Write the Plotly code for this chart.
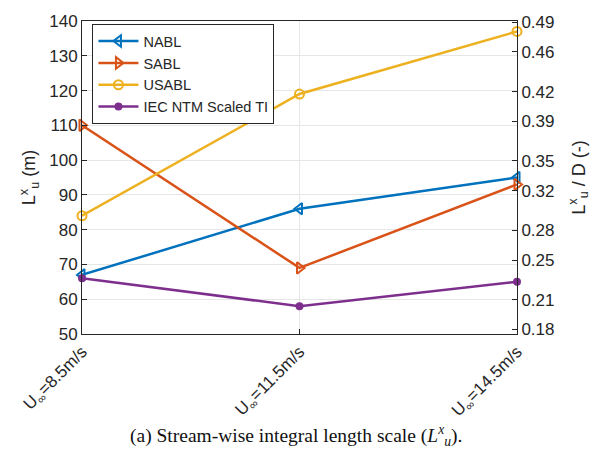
import plotly.graph_objects as go

# Wind-speed cases and streamwise integral length scale (m)
cases = ["U<sub>∞</sub>=8.5m/s", "U<sub>∞</sub>=11.5m/s", "U<sub>∞</sub>=14.5m/s"]
nabl = [67, 86, 95]
sabl = [110, 69, 93]
usabl = [84, 119, 137]
iec_ntm = [66, 58, 65]

# Normalising diameter for the right-hand axis
rotor_d = 285.0
left_ticks = [50, 60, 70, 80, 90, 100, 110, 120, 130, 140]
right_ticks = [0.18, 0.21, 0.25, 0.28, 0.32, 0.35, 0.39, 0.42, 0.46, 0.49]

x = list(range(len(cases)))
font = "Liberation Sans, Arial, sans-serif"

fig = go.Figure()
series = [
    ("NABL", nabl, "#0072BD", dict(symbol="triangle-left-open", size=10, line=dict(width=2))),
    ("SABL", sabl, "#D95319", dict(symbol="triangle-right-open", size=10, line=dict(width=2))),
    ("USABL", usabl, "#EDB120", dict(symbol="circle-open", size=9, line=dict(width=2))),
    ("IEC NTM Scaled TI", iec_ntm, "#7E2F8E", dict(symbol="circle", size=8)),
]
for name, vals, color, marker in series:
    fig.add_trace(go.Scatter(
        x=x, y=vals, name=name, mode="lines+markers",
        line=dict(color=color, width=2.5),
        marker=dict(color=color, **marker),
        cliponaxis=False,
    ))

# invisible trace to carry the secondary axis
fig.add_trace(go.Scatter(x=[0], y=[50 / rotor_d], yaxis="y2", mode="markers",
                         marker=dict(opacity=0), showlegend=False, hoverinfo="skip"))

axis_line = "#262626"
fig.update_layout(
    width=602, height=460,
    margin=dict(l=82, r=85, t=15, b=126),
    paper_bgcolor="white", plot_bgcolor="white",
    font=dict(family=font, size=17, color="#262626"),
    xaxis=dict(
        range=[0, 2], tickvals=x, ticktext=cases, tickangle=-45,
        showgrid=True, gridcolor="#e6e6e6", gridwidth=1,
        showline=True, linecolor=axis_line, linewidth=1, mirror=True,
        ticks="inside", ticklen=5, tickcolor=axis_line,
        zeroline=False, tickfont=dict(size=17),
    ),
    yaxis=dict(
        range=[50, 140], tickvals=left_ticks, tickfont=dict(size=17),
        showgrid=True, gridcolor="#e6e6e6", gridwidth=1,
        showline=True, linecolor=axis_line, linewidth=1,
        ticks="inside", ticklen=5, tickcolor=axis_line,
        zeroline=False,
        title=dict(text="L<sup>x</sup><sub>u</sub> (m)", font=dict(size=18), standoff=8),
    ),
    yaxis2=dict(
        range=[50 / rotor_d, 140 / rotor_d], tickvals=right_ticks,
        ticktext=[f"{v:.2f}" for v in right_ticks], tickfont=dict(size=17),
        overlaying="y", side="right", showgrid=False,
        showline=True, linecolor=axis_line, linewidth=1,
        ticks="inside", ticklen=5, tickcolor=axis_line,
        zeroline=False,
        title=dict(text="L<sup>x</sup><sub>u</sub> / D (-)", font=dict(size=18), standoff=18),
    ),
    legend=dict(
        x=0.024, y=0.99, xanchor="left", yanchor="top",
        bgcolor="white", bordercolor=axis_line, borderwidth=1,
        font=dict(size=14.5), tracegroupgap=0, itemwidth=40,
    ),
    showlegend=True,
)

fig.add_annotation(
    text="(a) Stream-wise integral length scale (<i>L</i><sup><i>x</i></sup><sub><i>u</i></sub>).",
    xref="paper", yref="paper", x=0.5, y=-0.325, xanchor="center", yanchor="middle",
    xshift=-4, showarrow=False,
    font=dict(family="Liberation Serif, Times New Roman, serif", size=19.5, color="#111111"),
)

fig.write_html("out.html")
